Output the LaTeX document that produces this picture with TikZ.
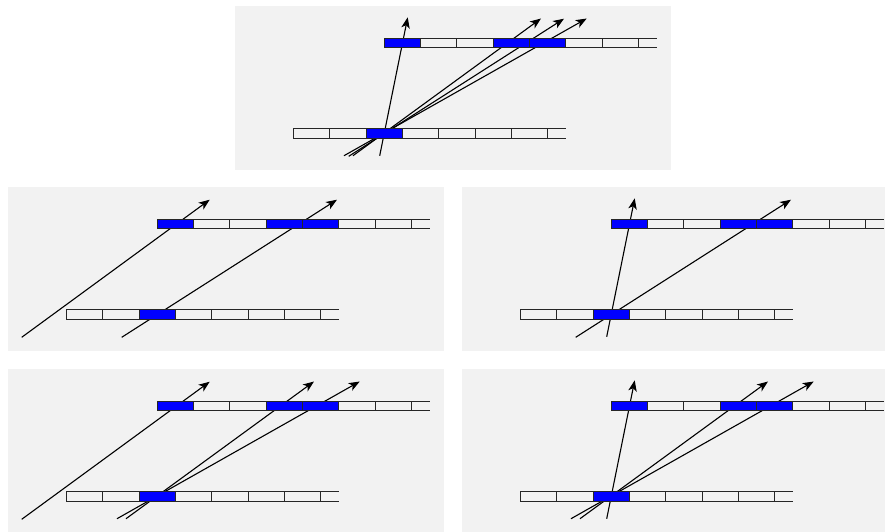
\documentclass[tikz,border=0pt]{standalone}
\usepackage{xcolor}
\usetikzlibrary{arrows.meta, positioning, calc}
\definecolor{panelgray}{HTML}{F2F2F2}
\tikzset{
    panelbox/.style={fill=panelgray, minimum width=436pt, minimum height=164pt, inner sep=0pt, outer sep=0pt, anchor=north west},
    cell/.style={draw=black!85, line width=1pt, minimum width=36.33pt, minimum height=9.5pt, inner sep=0pt, outer sep=0pt, anchor=north west},
    hitcell/.style={cell, fill=blue},
    tail/.style={draw=black!85, line width=1pt},
    ray/.style={draw=black, line width=1.1pt, -{Stealth[length=11pt, width=8.5pt, inset=3pt]}}
}
% one tape: name, x, y, cell styles
\newcommand{\tape}[4]{
    \foreach \i/\kind in {#4} {
        \node[\kind] (#1\i) at ({#2+\i*36.33}, #3) {};
    }
    \coordinate (#1tn) at ($(#16.north east)+(18,0)$);
    \coordinate (#1ts) at ($(#16.south east)+(18,0)$);
    \draw[tail] (#16.north east) -- (#1tn);
    \draw[tail] (#16.south east) -- (#1ts);
}
\newcommand{\ray}[5]{
    \coordinate (#1s) at (#2, #3);
    \coordinate (#1e) at (#4, #5);
    \draw[ray] (#1s) -- (#1e);
}
\newcommand{\rayA}{\ray{a}{13.7}{150.3}{201.7}{12.7}}
\newcommand{\rayV}{\ray{v}{144.7}{149.7}{172.7}{11.3}}
\newcommand{\rayN}{\ray{n}{118}{149.7}{306}{12.5}}
\newcommand{\rayM}{\ray{m}{113.7}{150.3}{329}{12.7}}
\newcommand{\rayW}{\ray{w}{109}{149.7}{351.7}{12.5}}
% one panel: name, x, y, rays
\newcommand{\panel}[4]{
    \begin{scope}[shift={(#2,#3)}, name prefix=#1-]
        \node[panelbox] (bg) at (0,0) {};
        #4
        \tape{up}{149.3}{32}{0/hitcell,1/cell,2/cell,3/hitcell,4/hitcell,5/cell,6/cell}
        \tape{lo}{58.5}{122.5}{0/cell,1/cell,2/hitcell,3/cell,4/cell,5/cell,6/cell}
    \end{scope}
}

\begin{document}
\begin{tikzpicture}[x=1pt, y=-1pt]
    \useasboundingbox (0,0) rectangle (885,531);
    \clip (0,0) rectangle (885,531);
    \panel{top}{235}{6}{\rayV \rayN \rayM \rayW}
    \panel{ml}{8}{187}{\rayA \rayM}
    \panel{mr}{462}{187}{\rayV \rayM}
    \panel{bl}{8}{369}{\rayA \rayN \rayW}
    \panel{br}{462}{369}{\rayV \rayN \rayW}
\end{tikzpicture}
\end{document}
